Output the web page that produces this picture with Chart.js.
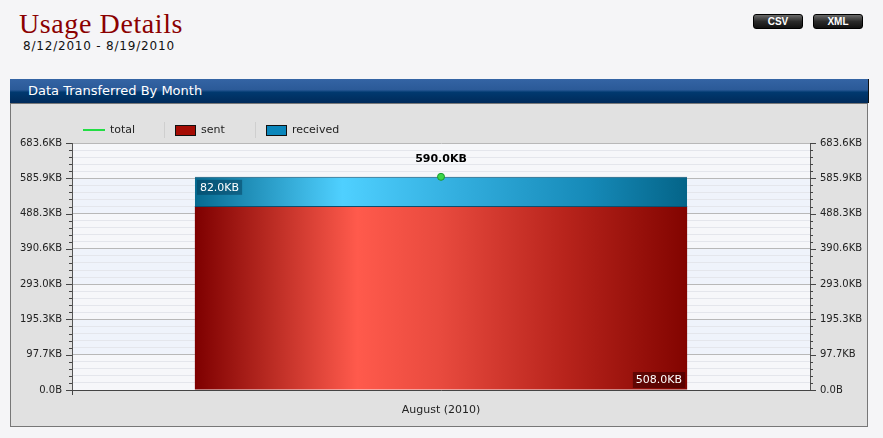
<!DOCTYPE html>
<html>
<head>
<meta charset="utf-8">
<script src="https://cdn.jsdelivr.net/npm/chart.js@4"></script>
<style>
    body { margin: 0; background: #f5f5f7; width: 883px; height: 438px; overflow: hidden; position: relative; font-family: "DejaVu Sans", sans-serif; }
    .title { position: absolute; left: 19px; top: 8px; font-family: "Liberation Serif", serif; font-size: 28px; color: #8b0000; letter-spacing: 0.6px; }
    .range { position: absolute; left: 23px; top: 39px; font-size: 12px; color: #111; letter-spacing: 0.8px; }
    .btn { position: absolute; top: 14px; width: 48px; height: 13px; border: 1px solid #000; border-radius: 3px;
           background: linear-gradient(#6a6a6a, #2a2a2a 50%, #111); color: #fff; font: bold 10px "Liberation Sans", Arial, sans-serif;
           text-align: center; line-height: 13px; }
    .header { position: absolute; left: 10px; top: 79px; width: 858px; height: 24px; border-right: 1px solid #111;
              background: linear-gradient(#3464a4, #2b5a98 45%, #00396f 55%, #002a5a); color: #fff; font-size: 13px; line-height: 24px; }
    .header span { padding-left: 18px; }
    .panel { position: absolute; left: 10px; top: 103px; width: 856px; height: 322px; background: #e1e1e1; border: 1px solid #777; }
    #chartWrap { position: absolute; left: 11px; top: 104px; width: 856px; height: 322px; }
</style>
</head>
<body>
<div class="title">Usage Details</div>
<div class="range">8/12/2010 - 8/19/2010</div>
<div class="btn" style="left:753px">CSV</div>
<div class="btn" style="left:813px">XML</div>
<div class="header"><span>Data Transferred By Month</span></div>
<div class="panel"></div>
<div id="chartWrap"><canvas id="usageChart" width="856" height="322"></canvas></div>

<script>
// données (en KB, comme affiché)
const months = ['August (2010)'];
const sentKB = [508.0];
const receivedKB = [82.0];
const totalKB = [590.0];

// axe Y en octets : 0 -> 700000, graduations majeures tous les 100000
const yMaxBytes = 700000;
const majorStep = 100000;
const minorStep = 20000;

const toBytes = arr => arr.map(v => v * 1024);

function fmtBytes(b) {
    if (b === 0) return '0.0B';
    return (b / 1024).toFixed(1) + 'KB';
}

function barGradient(chart, stops) {
    const area = chart.chartArea;
    if (!area) return stops[0][1];
    const w = (area.right - area.left) * 0.667;
    const cx = (area.left + area.right) / 2;
    const g = chart.ctx.createLinearGradient(cx - w / 2, 0, cx + w / 2, 0);
    stops.forEach(s => g.addColorStop(s[0], s[1]));
    return g;
}

const redStops = [[0, '#7e0000'], [0.15, '#b82a22'], [0.33, '#ff5a4c'], [0.5, '#e84a3e'], [0.75, '#b8241c'], [1, '#820400']];
const blueStops = [[0, '#066a90'], [0.3, '#4fd0ff'], [0.55, '#31acdc'], [0.8, '#168ab8'], [1, '#046488']];

// bandes alternées + légende + étiquettes
const decorPlugin = {
    id: 'decor',
    beforeDraw(chart) {
        const { ctx, chartArea: a, scales } = chart;
        const y = scales.y;
        ctx.save();
        for (let v = 0; v < yMaxBytes; v += majorStep) {
            const top = y.getPixelForValue(v + majorStep);
            const bot = y.getPixelForValue(v);
            ctx.fillStyle = (v / majorStep) % 2 === 0 ? '#f6f7fa' : '#eff3fb';
            ctx.fillRect(a.left, top, a.right - a.left, bot - top);
        }
        // légende
        ctx.font = '11px "DejaVu Sans"';
        ctx.textBaseline = 'middle';
        ctx.fillStyle = '#222';
        ctx.strokeStyle = '#22dd44';
        ctx.lineWidth = 2;
        ctx.beginPath(); ctx.moveTo(72, 26); ctx.lineTo(94, 26); ctx.stroke();
        ctx.fillText(chart.data.datasets[2].label, 99, 26);
        ctx.strokeStyle = '#cfcfcf'; ctx.lineWidth = 1;
        [153.5, 244.5].forEach(x => { ctx.beginPath(); ctx.moveTo(x, 18); ctx.lineTo(x, 34); ctx.stroke(); });
        ctx.strokeStyle = '#111';
        ctx.fillStyle = '#a50c04'; ctx.fillRect(164, 21, 21, 11); ctx.strokeRect(164.5, 21.5, 20, 10);
        ctx.fillStyle = '#0a86bb'; ctx.fillRect(255, 21, 21, 11); ctx.strokeRect(255.5, 21.5, 20, 10);
        ctx.fillStyle = '#222';
        ctx.fillText(chart.data.datasets[0].label, 190, 26);
        ctx.fillText(chart.data.datasets[1].label, 281, 26);
        ctx.restore();
    },
    afterDraw(chart) {
        const { ctx, chartArea: a, scales } = chart;
        const y = scales.y;
        ctx.save();
        // petites graduations
        ctx.strokeStyle = '#444'; ctx.lineWidth = 1;
        for (let v = 0; v <= yMaxBytes; v += minorStep) {
            const py = Math.round(y.getPixelForValue(v)) + 0.5;
            const len = v % majorStep === 0 ? 6 : 3;
            ctx.beginPath(); ctx.moveTo(a.left - len, py); ctx.lineTo(a.left, py); ctx.stroke();
            ctx.beginPath(); ctx.moveTo(a.right, py); ctx.lineTo(a.right + len, py); ctx.stroke();
        }
        ctx.beginPath(); ctx.moveTo(a.left + 0.5, a.bottom); ctx.lineTo(a.left + 0.5, a.bottom + 5); ctx.stroke();

        const recv = chart.getDatasetMeta(1).data[0];
        const sent = chart.getDatasetMeta(0).data[0];

        // jointure entre les deux segments
        if (sent) {
            const sy = Math.round(sent.y) + 0.5;
            ctx.strokeStyle = '#0b4f70';
            ctx.beginPath(); ctx.moveTo(sent.x - sent.width / 2, sy); ctx.lineTo(sent.x + sent.width / 2, sy); ctx.stroke();
        }

        // étiquettes des barres
        ctx.font = '11px "DejaVu Sans"';
        ctx.textBaseline = 'middle';
        if (recv) {
            const t = fmtBytes(chart.data.datasets[1].data[0]);
            const w = ctx.measureText(t).width + 6;
            const x0 = recv.x - recv.width / 2 + 2;
            ctx.fillStyle = 'rgba(0,50,80,0.45)';
            ctx.fillRect(x0, recv.y + 3, w, 15);
            ctx.fillStyle = '#fff';
            ctx.fillText(t, x0 + 3, recv.y + 11);
        }
        if (sent) {
            const t = fmtBytes(chart.data.datasets[0].data[0]);
            const w = ctx.measureText(t).width + 6;
            const x0 = sent.x + sent.width / 2 - 2 - w;
            ctx.fillStyle = 'rgba(60,0,0,0.6)';
            ctx.fillRect(x0, a.bottom - 18, w, 16);
            ctx.fillStyle = '#fff';
            ctx.fillText(t, x0 + 3, a.bottom - 10);
        }
        const pt = chart.getDatasetMeta(2).data[0];
        if (pt) {
            ctx.font = 'bold 11px "DejaVu Sans"';
            ctx.textAlign = 'center';
            ctx.fillStyle = '#000';
            ctx.fillText(fmtBytes(chart.data.datasets[2].data[0]), pt.x, pt.y - 18);
        }
        ctx.restore();
    }
};

const ctx = document.getElementById('usageChart').getContext('2d');

new Chart(ctx, {
    type: 'bar',
    data: {
        labels: months,
        datasets: [
            {
                label: 'sent',
                data: toBytes(sentKB),
                stack: 'bytes',
                backgroundColor: c => barGradient(c.chart, redStops),
                borderWidth: 0,
                barPercentage: 1,
                categoryPercentage: 0.667,
                order: 2
            },
            {
                label: 'received',
                data: toBytes(receivedKB),
                stack: 'bytes',
                backgroundColor: c => barGradient(c.chart, blueStops),
                borderColor: '#0b4f70',
                borderWidth: { top: 1, bottom: 0, left: 0, right: 0 },
                borderSkipped: false,
                barPercentage: 1,
                categoryPercentage: 0.667,
                order: 2
            },
            {
                type: 'line',
                label: 'total',
                data: toBytes(totalKB),
                stack: 'total',
                borderColor: '#22dd44',
                backgroundColor: '#3bd648',
                pointBorderColor: '#1a9a30',
                pointRadius: 3.5,
                pointBorderWidth: 1,
                order: 1
            }
        ]
    },
    options: {
        responsive: false,
        animation: false,
        layout: { padding: { top: 39, left: 0, right: 0, bottom: 0 } },
        plugins: { legend: { display: false }, tooltip: { enabled: false } },
        scales: {
            x: {
                stacked: true,
                grid: { display: false },
                border: { color: '#444' },
                ticks: { color: '#222', font: { family: 'DejaVu Sans', size: 11 }, padding: 6 },
                afterFit: s => { s.height = 36; }
            },
            y: {
                stacked: true,
                min: 0, max: yMaxBytes,
                border: { color: '#555' },
                grid: {
                    drawTicks: false,
                    color: c => c.tick.value % majorStep === 0 ? '#b8b8b8' : '#e4e6ec'
                },
                ticks: {
                    stepSize: minorStep,
                    autoSkip: false,
                    padding: 10,
                    color: '#222',
                    font: { family: 'DejaVu Sans', size: 10 },
                    callback: v => v % majorStep === 0 ? fmtBytes(v) : ''
                },
                afterFit: s => { s.width = 61; }
            },
            y2: {
                position: 'right',
                min: 0, max: yMaxBytes,
                border: { color: '#555' },
                grid: { drawOnChartArea: false, drawTicks: false },
                ticks: {
                    stepSize: minorStep,
                    autoSkip: false,
                    padding: 10,
                    color: '#222',
                    font: { family: 'DejaVu Sans', size: 10 },
                    callback: v => v % majorStep === 0 ? fmtBytes(v) : ''
                },
                afterFit: s => { s.width = 57; }
            }
        }
    },
    plugins: [decorPlugin]
});
</script>
</body>
</html>
